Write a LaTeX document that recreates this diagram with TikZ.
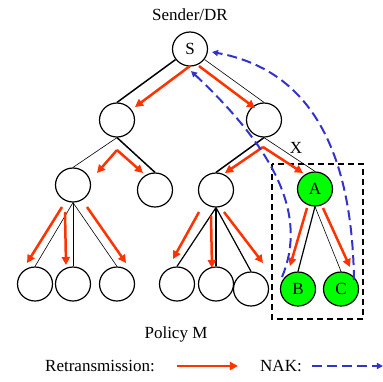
\documentclass[tikz,border=0pt]{standalone}
\usepackage{fontspec}
\setmainfont{Liberation Serif}
\usetikzlibrary{arrows.meta,calc,shapes.geometric}
\definecolor{retxred}{RGB}{255,51,0}
\definecolor{nakblue}{RGB}{51,51,204}
\definecolor{rcvgreen}{RGB}{0,255,0}
\tikzset{
  host/.style={ellipse,draw,fill=white,line width=1.2pt,minimum width=35pt,minimum height=34pt,inner sep=0pt,font=\fontsize{17}{20}\selectfont},
  lbl/.style={inner sep=0pt,font=\fontsize{17}{20}\selectfont},
  thinlink/.style={line width=0.6pt},
  thicklink/.style={line width=1.5pt},
  retx/.style={draw=retxred,line width=2.5pt,-{Triangle[length=8pt,width=8pt]}},
  nak/.style={draw=nakblue,line width=2pt,dash pattern=on 10pt off 5pt,-{Triangle[length=6pt,width=6pt]}}
}
\begin{document}
\begin{tikzpicture}[x=1pt,y=-1pt]
  \useasboundingbox (0,0) rectangle (383,381);
  \node[lbl] (top) at (190,15) {Sender/DR};
  \node[host] (S) at (190,49) {S};
  \node[host] (l1) at (117,120) {};
  \node[host] (r1) at (264,120) {};
  \node[host] (a) at (73,185) {};
  \node[host] (b) at (155,190) {};
  \node[host] (c) at (216,190) {};
  \node[host,fill=rcvgreen] (A) at (315,189) {A};
  \foreach \n/\x in {la1/35,la2/73,la3/117,lc1/177,lc2/216}{\node[host] (\n) at (\x,284) {};}
  \node[host] (lc3) at (251,289) {};
  \node[host,fill=rcvgreen] (B) at (298,289) {B};
  \node[host,fill=rcvgreen] (C) at (341,289) {C};
  % tree links
  \draw[thicklink] (S) -- (l1.north);
  \draw[thinlink] (S) -- (r1.north);
  \draw[thinlink] (l1.south) -- (a.north);
  \draw[thicklink] (l1.south) -- (b.north);
  \draw[thicklink] (r1.south) -- (c.north);
  \draw[thinlink] (r1.south) -- (A.north);
  \foreach \n in {la1,la2,la3}{\draw[thinlink] (a.south) -- (\n.north);}
  \foreach \n in {lc1,lc2,lc3}{\draw[line width=1.2pt] (c.south) -- (\n.north);}
  \draw[line width=1.2pt] (A.south) -- (B.north);
  \draw[thinlink] (A.south) -- (C.north);
  \node[lbl] (lossmark) at (296,148) {X};
  % receivers that lost the packet
  \draw[line width=1.8pt,dash pattern=on 6pt off 4pt] (272,164) rectangle (363,319);
  % retransmissions
  \draw[retx] ($(S)+(0,17)$) -- ($(l1)+(18,-13)$);
  \draw[retx] ($(S)+(9,17)$) -- ($(r1)+(-9,-12)$);
  \draw[retx] ($(l1)+(0,30)$) -- ($(a)+(24,-12)$);
  \draw[retx] ($(l1)+(0,30)$) -- ($(b)+(-12,-17)$);
  \draw[retx] ($(r1)+(-1,27)$) -- ($(c)+(9,-17)$);
  \draw[retx] ($(r1)+(-1,27)$) -- ($(A)+(-12,-16)$);
  \draw[retx] ($(a)+(-11,22)$) -- ($(la1)+(-8,-21)$);
  \draw[retx] ($(a)+(-8,27)$) -- ($(la2)+(-7,-19)$);
  \draw[retx] ($(a)+(14,22)$) -- ($(la3)+(9,-21)$);
  \draw[retx] ($(c)+(-17,22)$) -- ($(lc1)+(-4,-25)$);
  \draw[retx] ($(c)+(-5,26)$) -- ($(lc2)+(-4,-16)$);
  \draw[retx] ($(c)+(8,22)$) -- ($(lc3)+(12,-26)$);
  \draw[retx] ($(A)+(-8,19)$) -- ($(B)+(-8,-23)$);
  \draw[retx] ($(A)+(8,19)$) -- ($(C)+(9,-22)$);
  % NAKs
  \draw[nak] ($(B)+(-16,-12)$) .. controls (308,215) and (275,150) .. ($(S)+(1,22)$);
  \draw[nak] ($(C)+(13,-9)$) .. controls (352,150) and (310,70) .. ($(S)+(22,3)$);
  \node[lbl] (policy) at (176,334) {Policy M};
  % legend
  \node[lbl] (retxkey) at (100,366) {Retransmission:};
  \draw[retx] ($(retxkey.east)+(22,0)$) -- ++(61,0);
  \node[lbl] (nakkey) at (281,366) {NAK:};
  \draw[nak] ($(nakkey.east)+(10,0)$) -- ++(71,0);
\end{tikzpicture}
\end{document}
